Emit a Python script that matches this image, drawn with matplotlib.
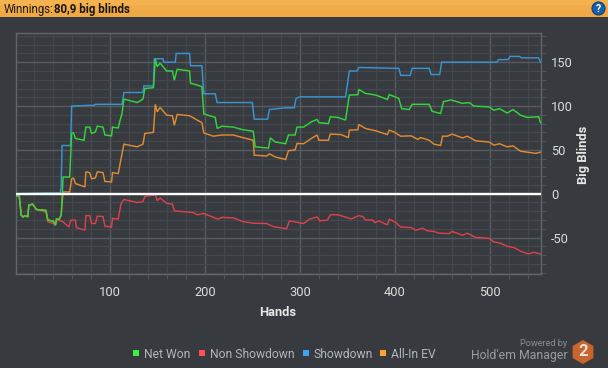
import matplotlib
matplotlib.use("Agg")
import matplotlib.pyplot as plt
from matplotlib.patches import Rectangle, RegularPolygon, Circle
from matplotlib.ticker import MultipleLocator, FixedLocator
import numpy as np

net_h = [1,5,7,9,11,14,15,19,23,33,35,41,43,44,47,49,50,51,58,60,62,64,73,75,79,81,85,87,93,95,102,103,109,111,113,115,129,135,137,146,148,150,153,160,166,168,171,184,185,192,197,199,211,213,218,230,240,251,253,267,269,274,285,288,295,297,304,312,318,320,330,332,340,348,352,361,362,365,369,380,392,394,399,404,407,415,418,436,439,448,451,459,471,478,483,499,504,510,518,524,532,539,550,551,553]
net_v = [-2,-3,-24.5,-26.5,-25,-26.5,-13,-12,-18,-19,-30,-31.5,-36,-29,-29,-24.5,-5,19,19,69,69.5,63,61,76,76,68.7,70.5,77,76,67,66,76,75,84,91.5,108,104,108,120,121,153.5,145,149,140,140,129.5,142,140,126,124,122,91,87,74.5,77,76,73,71.3,53.5,52,63.7,59,57,67,67,76,76,82,84.7,81,80,87.7,87,84,112.5,113,119,117,114.4,112.5,107.5,113,111,108.7,97,96,102,102,94,91.5,105,107,103,104,100,99,95.3,97,92,96,89.6,87,87.7,88,81]

nonsd_h = [1,5,7,9,11,14,15,19,23,33,35,43,45,50,52,57,59,64,65,74,75,79,81,85,87,93,95,102,103,109,112,115,129,135,137,146,148,150,153,160,166,168,188,192,199,209,214,218,230,240,251,265,272,286,289,304,310,318,321,329,332,340,354,362,366,369,376,379,383,392,394,401,406,417,422,429,434,441,446,457,460,471,476,485,489,499,504,511,518,525,532,540,546,553]
nonsd_v = [-2,-3,-24.5,-26.5,-25,-26.5,-13,-12,-18,-21,-32,-35,-30,-31.5,-33,-38,-30.4,-30,-38.6,-41.7,-25,-25,-34,-34,-25.7,-26,-37,-38,-28,-29,-11,-6.6,-10,-9,-3,-1.7,-1,-8,-5,-11,-12,-19.6,-21.5,-24,-22.6,-27,-29,-27,-27.5,-31.8,-33.7,-34,-37.5,-40,-31,-34,-29,-26.5,-31,-30,-24,-24,-28.8,-25,-26,-30,-30,-33,-31,-35.6,-29,-33,-38,-38.6,-41.7,-39.4,-42.4,-43,-45,-45.5,-43,-47.4,-45,-50,-50,-51,-55,-56.5,-60,-61.4,-65.6,-68.7,-66.8,-68.7]

sd_h = [1,33,48,49,50,59,60,84,85,113,115,135,136,146,147,156,157,169,170,184,185,197,199,211,213,250,252,266,268,285,294,296,300,348,350,352,360,362,404,406,416,418,436,438,447,449,507,509,519,521,531,533,551,553]
sd_v = [0,1,1,8,55,55,100,101,102,102,115.5,115.5,123,123,154,154,150,150,160,160,146,146,114,114,104,104,85,85,96,98,98,108.7,110.5,110.5,125,140,140,144,143,135,135,143,143,136,136,150,150,153,153,156.6,156.6,155,155,150]

ev_h = [1,5,7,9,11,14,15,19,23,33,35,41,43,44,47,49,50,51,58,60,62,64,74,75,79,81,85,87,93,95,102,103,109,112,115,129,135,137,146,148,150,153,160,166,168,171,184,192,197,199,209,218,230,240,251,252,265,268,274,285,288,295,297,304,312,318,320,330,332,343,351,352,361,362,365,369,380,392,394,399,406,417,424,427,436,441,448,450,455,460,471,476,485,499,504,510,518,524,532,539,548,553]
ev_v = [-2,-3,-24.5,-26.5,-25,-26.5,-13,-12,-18,-19,-30,-31.5,-36,-29,-29,-24.5,-10,2,2,17,18,11.6,7.8,25,24,17,18,25,24,14,13.5,24,23,40,56.5,53.5,56.5,68.7,70,102,93.4,98.4,89.6,88.9,78,90.4,89,84,81,69.4,65.6,67,67,64,61,44,43,45.5,42,39,49,50,57.3,57,63,67,61,61,68,67.5,64,72.5,73,79,77,74.4,71.7,67.5,72.5,70.5,65.6,66,62,64,61,56.5,55,65.6,65.6,68,63.7,65.6,60.3,59,55.4,57,53.4,54.6,48.5,47.4,46,47.4]

x_ticks = [100, 200, 300, 400, 500]
y_ticks = [-50, 0, 50, 100, 150]
legend_names = ["Net Won", "Non Showdown", "Showdown", "All-In EV"]

W, H = 608, 368
BG = "#373a3e"
plt.rcParams["font.family"] = ["Roboto", "DejaVu Sans"]
fig = plt.figure(figsize=(W / 100, H / 100), dpi=100, facecolor=BG)

bgx = fig.add_axes([0, 0, 1, 1], zorder=0)
bgx.set_xlim(0, W); bgx.set_ylim(H, 0); bgx.axis("off")
grad = np.array([[0.0], [0.55], [1.0]])
top = np.array([0xf5, 0xb3, 0x50]) / 255; bot = np.array([0xee, 0xa8, 0x44]) / 255
bgx.imshow(top + (bot - top) * grad[..., None], extent=(0, W, 17.5, 0), aspect="auto", zorder=1)
bgx.set_xlim(0, W); bgx.set_ylim(H, 0)
bgx.text(4, 9, "Winnings:", fontsize=8.3, color="#1e1a14", va="center", ha="left")
bgx.text(54, 9, "80,9 big blinds", fontsize=8.3, color="#1a150d", va="center", ha="left", fontweight="bold")
bgx.add_patch(Circle((598.5, 8.5), 6.5, fc="#1a5fa8", ec="#0d3f78", lw=0.8, zorder=3))
bgx.text(598.5, 8.5, "?", fontsize=7.5, color="white", fontweight="bold", ha="center", va="center", zorder=4)

L, R, T, B = 15.5, 540.5, 33.3, 274.0
ax = fig.add_axes([L / W, 1 - B / H, (R - L) / W, (B - T) / H], zorder=2)
ax.set_facecolor("none")
ax.set_xlim(1, 553)
ax.set_ylim(-91.6, 183)
ax.xaxis.set_major_locator(FixedLocator(x_ticks))
ax.xaxis.set_minor_locator(MultipleLocator(20))
ax.yaxis.set_major_locator(FixedLocator(y_ticks))
ax.yaxis.set_minor_locator(MultipleLocator(10))
ax.yaxis.tick_right()
ax.grid(which="minor", color="#44474b", lw=0.9)
ax.grid(which="major", color="#585b5f", lw=1.0)
ax.set_axisbelow(True)
for s in ax.spines.values():
    s.set_color("#62656a"); s.set_linewidth(1.0)
ax.tick_params(which="minor", length=3.6, width=0.8, color="#505357")
ax.tick_params(which="major", length=0, labelsize=9.3, labelcolor="#dcdcdc")
ax.tick_params(axis="x", which="major", pad=8.5)
ax.tick_params(axis="y", which="major", pad=7.5)
ax.set_xticklabels([str(v) for v in x_ticks])
ax.set_yticklabels([str(v) for v in y_ticks])

series = [(nonsd_h, nonsd_v, "#d8424b", 2), (sd_h, sd_v, "#3a94d2", 3),
          (ev_h, ev_v, "#e08b31", 4), (net_h, net_v, "#34d43c", 5)]
for xs, ys, c, z in series:
    ax.plot(xs, ys, color=c, lw=1.05, zorder=z, solid_joinstyle="miter")
ax.axhline(0, color="white", lw=1.7, zorder=6)

bgx.text(278, 313, "Hands", fontsize=9.3, fontweight="bold", color="#e8e8e8", ha="center", va="center")
bgx.text(583, 155, "Big Blinds", fontsize=9.3, fontweight="bold", color="#e8e8e8", ha="center", va="center", rotation=90)

leg_sq = [(132.5, "#3cf03f"), (199, "#ff5155"), (303, "#3aa6ee"), (379.5, "#ffa033")]
leg_tx = [144, 210.5, 313.5, 391]
for (sx, c), tx, name in zip(leg_sq, leg_tx, legend_names):
    bgx.add_patch(Rectangle((sx, 350), 6, 6, fc=c, ec="none"))
    bgx.text(tx, 354.5, name, fontsize=8.75, color="#b4b6b8", ha="left", va="center")

bgx.text(567, 343, "Powered by", fontsize=6.6, color="#8b8d90", ha="right", va="center")
bgx.text(567.5, 355, "Hold'em Manager", fontsize=8.8, color="#9a9c9e", ha="right", va="center")
bgx.add_patch(RegularPolygon((583, 352), 6, radius=12, fc="#c8642c", ec="none"))
bgx.text(583, 351.5, "2", fontsize=12, fontweight="bold", color="#e6e2dc", ha="center", va="center")

fig.savefig("out.png", dpi=100, facecolor=BG)
